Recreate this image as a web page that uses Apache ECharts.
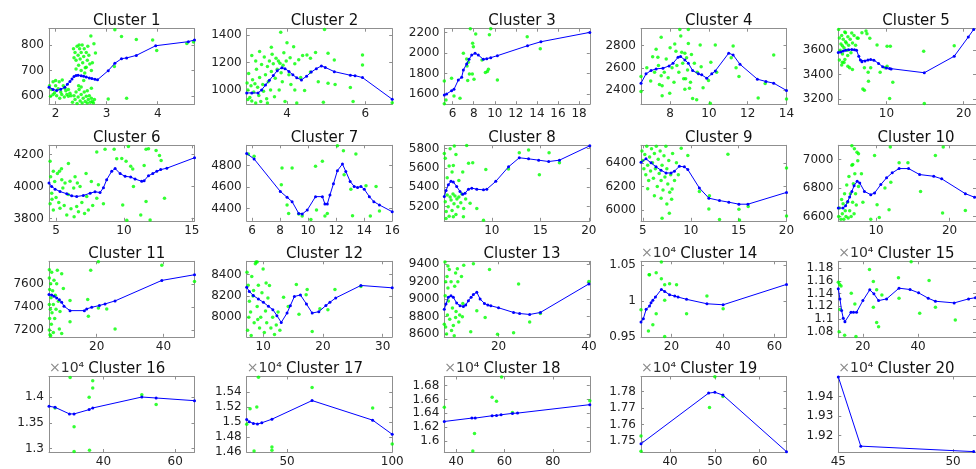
<!DOCTYPE html>
<html>
<head>
<meta charset="utf-8">
<script src="https://cdn.jsdelivr.net/npm/echarts@6/dist/echarts.min.js"></script>
<style>
  html, body { margin: 0; padding: 0; background: #fff; }
  #chart { width: 976px; height: 469px; }
</style>
</head>
<body>
<div id="chart"></div>
<script>
// blue line (cluster centre curve) and green points for every cluster, [x, y]
var line1 = [[1.87,634],[1.95,625],[2.02,621],[2.1,626],[2.18,634],[2.23,645],[2.28,656],[2.32,666],[2.36,676],[2.4,680],[2.44,681],[2.5,679],[2.55,677],[2.6,674],[2.66,670],[2.71,668],[2.77,665],[2.82,663],[3.03,699],[3.16,728],[3.29,746],[3.39,749],[3.58,759],[3.96,797],[4.6,813],[4.72,820]]
var pts1 = [[1.88,640],[1.92,625],[1.95,655],[1.98,612],[2.0,640],[2.02,600],[2.05,628],[2.07,655],[2.1,615],[2.12,605],[2.15,640],[2.17,595],[2.2,620],[2.22,605],[2.25,598],[2.28,610],[2.3,600],[1.9,598],[2.0,660],[2.08,590],[2.13,662],[1.95,605],[2.18,630],[2.25,625],
  [2.35,785],[2.38,770],[2.4,740],[2.42,795],[2.44,760],[2.45,720],[2.47,785],[2.48,745],[2.5,770],[2.52,800],[2.53,730],[2.55,755],[2.56,785],[2.58,710],[2.6,770],[2.62,740],[2.63,795],[2.65,760],[2.67,725],[2.4,705],[2.5,700],[2.57,690],[2.36,750],[2.46,800],[2.6,712],[2.72,730],[2.7,700],[2.75,805],[2.78,768],[2.69,835],[2.55,660],[2.45,640],
  [2.33,575],[2.36,600],[2.38,585],[2.4,615],[2.42,570],[2.44,595],[2.46,625],[2.48,580],[2.5,605],[2.52,572],[2.54,590],[2.56,615],[2.58,578],[2.6,598],[2.62,572],[2.64,585],[2.66,600],[2.68,575],[2.7,590],[2.72,578],[2.74,572],[2.76,585],[2.5,635],[2.62,620],[2.7,630],
  [3.03,587],[3.16,860],[3.15,715],[3.29,833],[3.39,590],[3.58,822],[3.9,820],[3.98,778],[4.57,806],[4.7,812]]

var line2 = [[2.97,978],[3.1,978],[3.26,978],[3.35,1000],[3.45,1035],[3.55,1070],[3.65,1105],[3.75,1140],[3.87,1162],[3.95,1155],[4.05,1135],[4.15,1110],[4.25,1088],[4.37,1073],[4.5,1100],[4.62,1130],[4.75,1155],[4.88,1175],[4.98,1164],[5.21,1133],[5.62,1107],[5.74,1104],[5.93,1090],[6.69,932]]
var pts2 = [[2.98,1050],[3.0,1000],[3.02,1120],[3.05,945],[3.08,1030],[3.1,920],[3.12,1075],[3.15,985],[3.18,1045],[3.2,905],[3.22,1150],[3.25,1020],[3.28,960],[3.3,1090],[3.33,915],[3.35,1185],[3.38,1040],[3.4,990],[3.42,1240],[3.45,1110],[3.48,935],[3.5,1170],[3.52,1060],[3.55,1210],[3.58,1000],[3.6,1135],[3.62,1260],[3.65,1190],[3.68,950],[3.7,1085],[3.72,1230],[3.75,1150],[3.78,1210],[3.8,1000],[3.82,1195],[3.85,1125],[3.88,1060],[3.9,1180],[3.92,1270],[3.95,915],[3.98,1210],[4.0,1344],[4.05,1110],[4.08,1235],[4.1,1040],[4.17,1315],[4.2,1190],[4.25,905],[4.3,1220],[4.35,1090],[4.4,1250],[4.45,995],[4.51,1255],[4.6,1130],[4.73,1272],[4.8,1060],[3.84,1420],[4.96,1440],[5.05,1267],[5.21,1218],[5.05,1049],[5.23,1039],[5.62,1017],[5.69,915],[5.93,1254],[5.93,1182],[4.93,911],[6.69,907],[3.1,1250],[3.3,1280],[3.6,1310],[4.2,1000],[4.6,1230],[3.0,930],[3.2,1210],[3.5,905]]

var line3 = [[5.21,1590],[5.43,1600],[5.9,1632],[6.13,1645],[6.54,1736],[6.86,1762],[7.02,1833],[7.33,1892],[7.56,1937],[7.81,1979],[8.13,1996],[8.44,1979],[8.92,1937],[9.24,1944],[9.62,1954],[10.25,1973],[13.11,2070],[14.38,2109],[19.02,2200]]
var pts3 = [[5.21,1726],[5.37,1542],[5.21,1505],[5.9,1752],[6.13,1580],[6.7,1558],[7.02,1996],[7.33,1940],[7.49,1908],[7.43,1730],[7.59,1795],[7.68,2235],[7.9,2093],[7.97,2060],[8.03,1743],[8.19,2184],[8.79,1931],[9.11,1808],[9.3,1818],[9.4,1840],[9.49,2177],[9.62,2235],[10.25,1736],[13.08,2158],[14.32,2041],[7.87,1795],[7.37,1873]]

var line4 = [[6.5,2461],[6.76,2545],[7.02,2575],[7.28,2590],[7.63,2596],[7.95,2617],[8.15,2641],[8.41,2695],[8.54,2701],[8.76,2671],[8.94,2641],[9.16,2575],[9.46,2545],[9.63,2536],[9.89,2506],[10.15,2545],[10.33,2572],[11.02,2732],[11.25,2716],[11.6,2632],[12.5,2497],[12.94,2476],[13.34,2461],[14.0,2395]]
var pts4 = [[7.54,2876],[7.28,2768],[7.37,2696],[7.54,2527],[7.59,2437],[7.59,2347],[7.98,2371],[8.24,2815],[8.3,2750],[8.5,2945],[8.55,2887],[8.94,2945],[8.94,2820],[8.76,2732],[8.8,2500],[8.76,2407],[9.0,2416],[9.16,2323],[9.37,2311],[9.55,2806],[9.98,2485],[10.07,2280],[10.33,2806],[11.25,2797],[11.55,2521],[13.34,2716],[12.54,2326],[12.9,2458],[14.0,2317],[6.5,2521],[6.5,2386],
  [6.8,2600],[7.0,2480],[7.1,2700],[7.2,2560],[7.4,2620],[7.45,2450],[7.7,2560],[7.8,2680],[7.9,2510],[8.0,2780],[8.1,2600],[8.2,2470],[8.35,2620],[8.45,2560],[8.6,2740],[8.65,2640],[8.7,2500],[8.85,2690],[8.9,2580],[9.05,2470],[9.1,2720],[9.25,2640],[9.4,2560],[9.6,2610],[9.7,2420],[10.1,2650],[10.4,2560],[11.15,2690],[11.4,2600]]

var line5 = [[3.76,3581],[4.08,3586],[4.4,3594],[4.69,3600],[5.1,3604],[5.51,3605],[5.85,3603],[6.12,3600],[6.41,3551],[6.62,3520],[6.82,3505],[7.22,3513],[7.6,3520],[7.96,3524],[8.37,3519],[8.98,3492],[9.51,3465],[10.0,3455],[10.41,3451],[10.6,3446],[14.9,3416],[18.78,3551],[20.6,3708],[21.3,3770]]
var pts5 = [[3.8,3770],[4.69,3743],[4.69,3670],[4.29,3637],[4.98,3556],[4.61,3524],[4.29,3502],[5.22,3456],[5.59,3443],[6.33,3697],[6.82,3743],[7.35,3757],[7.47,3735],[7.84,3697],[8.78,3643],[7.14,3456],[7.63,3421],[6.94,3283],[7.14,3273],[7.67,3346],[7.96,3456],[9.18,3421],[9.8,3456],[10.08,3632],[10.5,3632],[10.08,3470],[10.41,3205],[10.82,3338],[14.82,3592],[14.9,3165],[18.78,3637],
  [3.9,3700],[4.0,3600],[4.1,3650],[4.2,3720],[4.3,3570],[4.4,3690],[4.5,3620],[4.6,3750],[4.8,3660],[4.9,3600],[5.0,3710],[5.1,3640],[5.3,3690],[5.4,3580],[5.6,3660],[5.8,3720],[6.0,3640],[4.2,3480],[4.5,3500],[5.0,3470],[3.9,3520],[6.2,3700],[5.5,3740]]

var line6 = [[4.48,4021],[4.68,4000],[4.93,3983],[5.29,3968],[5.79,3954],[6.15,3941],[6.52,3937],[7.01,3943],[7.51,3958],[7.87,3966],[8.24,3962],[8.49,3992],[8.73,4042],[9.1,4095],[9.35,4112],[9.72,4080],[10.09,4063],[10.5,4059],[10.82,4046],[11.31,4032],[11.49,4036],[11.81,4067],[12.13,4080],[12.42,4095],[12.71,4105],[13.16,4114],[15.2,4179]]
var pts6 = [[5.91,4143],[7.21,4080],[8.0,4215],[8.61,4232],[9.28,4232],[9.47,4173],[9.84,4175],[10.16,4158],[10.33,4250],[10.5,4126],[10.65,4109],[10.7,4000],[11.49,4131],[11.63,4232],[11.81,4236],[12.37,4225],[12.62,4194],[12.74,4162],[12.99,3926],[11.63,3905],[11.93,3790],[11.24,3821],[10.21,3789],[9.91,3884],[8.49,3891],[8.0,3926],[8.12,4011],[7.26,3937],[7.38,3853],[6.52,3874],[6.65,3842],[6.33,3811],[5.79,3821],[5.29,3863],[4.8,3853],[4.56,3891],[4.56,4158],[4.8,4095],[5.25,4095],[5.42,4042],[5.66,4021],[6.03,4032],[6.57,4021],[6.77,4000],[4.68,3958],
  [4.6,4060],[4.9,4030],[5.0,3930],[5.1,4080],[5.2,3900],[5.5,3990],[5.6,3880],[5.9,3950],[6.1,3860],[6.3,3990],[6.9,3900],[7.1,3830],[7.7,3880],[4.7,3920],[5.4,4110],[6.4,4060],[7.6,4030]]

var line7 = [[5.62,4913],[6.15,4862],[8.02,4558],[8.5,4504],[8.86,4463],[9.33,4353],[9.58,4347],[9.94,4385],[10.53,4510],[11.02,4510],[11.2,4441],[11.37,4441],[11.56,4526],[11.81,4630],[12.09,4753],[12.45,4815],[12.69,4746],[13.0,4652],[13.29,4605],[13.53,4595],[13.77,4605],[14.01,4579],[14.37,4510],[14.69,4463],[15.09,4432],[16.0,4369]]
var pts7 = [[5.74,4909],[6.15,4888],[8.09,4621],[8.14,4777],[8.86,4777],[8.5,4432],[8.61,4353],[9.33,4347],[9.58,4330],[10.2,4295],[10.53,4793],[10.6,4385],[11.02,4840],[11.37,4353],[12.09,4985],[12.52,4940],[12.57,4715],[13.05,4579],[13.41,4909],[14.13,4612],[14.85,4605],[13.17,4331],[14.44,4328],[15.09,4375],[11.2,4330]]

var line8 = [[5.1,5305],[5.28,5367],[5.52,5427],[5.79,5462],[6.03,5455],[6.38,5409],[6.72,5357],[7.0,5329],[7.24,5340],[7.59,5381],[7.93,5392],[8.45,5381],[9.14,5374],[9.48,5381],[10.41,5462],[11.72,5612],[12.83,5706],[13.79,5695],[14.83,5681],[15.86,5667],[16.97,5681],[20.1,5830]]
var pts8 = [[5.1,5751],[6.13,5828],[7.41,5832],[6.03,5626],[7.76,5235],[8.03,5654],[9.38,5584],[8.45,5182],[7.07,5095],[6.03,5095],[5.28,5078],[11.72,5591],[12.83,5758],[13.79,5786],[14.9,5531],[15.9,5758],[16.97,5654],[9.14,5060],
  [5.2,5250],[5.3,5150],[5.4,5320],[5.5,5200],[5.6,5100],[5.7,5300],[5.8,5270],[5.9,5160],[6.0,5330],[6.1,5230],[6.2,5310],[6.3,5120],[6.4,5280],[6.5,5200],[6.6,5300],[6.8,5240],[6.9,5330],[7.1,5180],[7.3,5280],[5.4,5500],[5.6,5620],[5.9,5560],[6.3,5740],[6.6,5470],[5.2,5700],[7.0,5560],[5.7,5800],[7.6,5650]]

var line9 = [[4.8,6406],[5.32,6434],[5.85,6400],[6.37,6366],[6.89,6337],[7.42,6314],[7.94,6314],[8.29,6329],[8.81,6371],[9.33,6366],[9.69,6343],[10.9,6186],[11.89,6100],[13.0,6080],[13.98,6066],[15.03,6049],[15.97,6049],[20.0,6149]]
var pts9 = [[4.9,6500],[5.0,6420],[5.1,6350],[5.2,6470],[5.3,6300],[5.4,6540],[5.5,6380],[5.6,6250],[5.7,6450],[5.8,6330],[5.9,6520],[6.0,6400],[6.1,6270],[6.2,6480],[6.3,6350],[6.4,6540],[6.5,6200],[6.6,6430],[6.7,6310],[6.8,6500],[6.9,6250],[7.0,6380],[7.1,6170],[7.2,6460],[7.3,6280],[7.4,6540],[7.5,6350],[7.6,6220],[7.7,6420],[7.8,6150],[7.9,6300],[8.1,6480],[8.3,6250],[8.5,6400],[8.7,6300],[6.2,6120],[5.5,6180],[6.9,6100],[7.5,6050],[8.0,6090],[7.76,5972],[7.0,5930],[8.05,6177],[9.0,6523],[9.69,6463],[13.88,6472],[10.9,6157],[11.95,6120],[11.89,6009],[13.0,5920],[15.03,6006],[15.09,5915],[16.0,6030],[20.0,6357],[20.0,5949]]

var line10 = [[4.85,6659],[5.49,6659],[5.84,6675],[6.14,6706],[6.39,6736],[6.7,6776],[7.0,6816],[7.42,6847],[7.77,6835],[8.41,6776],[9.27,6753],[9.79,6765],[10.64,6824],[11.42,6871],[12.19,6906],[13.13,6936],[14.42,6936],[15.92,6894],[17.85,6882],[18.93,6864],[22.15,6760],[23.4,6735]]
var pts10 = [[4.9,6600],[5.0,6660],[5.2,6580],[5.3,6720],[5.4,6620],[5.5,6690],[5.6,6580],[5.7,6760],[5.8,6640],[5.9,6600],[6.0,6820],[6.1,6700],[6.2,6590],[6.3,6880],[6.4,6640],[6.5,6760],[6.6,6600],[6.7,6960],[6.8,6700],[6.9,6830],[7.0,6620],[7.1,6900],[7.2,6760],[7.3,6680],[7.5,6990],[7.6,6810],[6.7,7095],[7.04,7075],[7.4,7050],[7.6,7040],[6.82,6965],[8.0,6900],[8.2,6700],
  [9.79,7028],[11.93,7087],[13.13,6976],[14.33,6976],[10.13,6682],[9.27,6581],[10.43,6593],[11.76,6647],[16.05,6776],[18.07,7028],[19.14,7087],[19.05,6624],[22.15,6642],[12.0,6840],[11.2,6800]]

var line11 = [[5.7,7507],[6.5,7504],[7.2,7493],[8.0,7478],[8.8,7461],[9.5,7441],[10.2,7406],[12.0,7368],[16.3,7368],[17.0,7383],[18.5,7397],[20.8,7412],[22.5,7426],[25.5,7452],[39.5,7629],[49.3,7678]]
var pts11 = [[5.8,7200],[5.9,7300],[5.8,7420],[5.9,7550],[5.8,7650],[5.8,7720],[6.0,7160],[6.1,7380],[6.2,7600],[6.3,7480],[6.4,7250],[6.5,7700],[6.6,7350],[6.8,7540],[7.0,7420],[7.2,7630],[7.4,7300],[7.6,7500],[7.8,7380],[8.0,7600],[8.2,7716],[9.5,7687],[8.8,7209],[9.5,7170],[8.5,7450],[9.0,7360],[10.0,7560],[12.0,7455],[12.0,7272],[18.2,7716],[17.3,7464],[17.5,7319],[20.5,7790],[20.5,7390],[23.0,7383],[25.5,7209],[39.5,7759],[49.3,7620],[7.0,7180],[6.2,7150]]

var line12 = [[7.25,8281],[7.69,8241],[8.36,8203],[9.2,8171],[10.05,8140],[10.89,8103],[11.63,8072],[12.31,8016],[13.03,7953],[14.0,8040],[14.55,8109],[15.23,8194],[16.24,8209],[17.25,8124],[18.21,8040],[19.32,8053],[20.5,8110],[21.18,8140],[22.14,8181],[26.36,8297],[31.6,8275]]
var pts12 = [[7.3,8420],[7.5,8300],[7.7,8150],[7.9,8050],[8.1,8380],[8.3,8200],[8.5,7950],[8.7,8500],[8.82,8515],[9.0,8100],[9.2,8300],[9.4,7900],[9.6,8000],[9.8,8230],[10.0,8450],[10.2,7860],[10.4,8060],[10.6,7950],[10.8,8180],[11.06,8297],[11.3,7900],[11.6,8000],[11.9,7840],[12.2,7930],[12.5,8050],[12.8,7880],[13.42,8187],[14.2,8100],[15.56,8306],[17.37,8259],[17.2,8210],[16.0,8030],[18.21,7869],[19.5,8080],[20.84,8072],[22.02,8259],[26.36,8288],[7.4,7880],[8.0,7830],[9.0,8515],[7.6,8000],[8.4,8250],[9.1,7980],[10.5,8320]]

var line13 = [[8.0,8886],[8.37,8944],[8.89,9022],[9.48,9041],[10.0,9022],[10.74,8956],[11.48,8925],[12.22,8917],[12.74,8933],[13.33,8983],[13.93,9022],[14.44,9053],[15.19,9080],[15.93,9002],[16.89,8952],[17.63,8933],[18.3,8925],[20.0,8902],[23.33,8848],[24.67,8836],[26.89,8825],[29.26,8848],[40.0,9176]]
var pts13 = [[8.15,9427],[8.8,9380],[9.1,9340],[10.89,9350],[10.5,9300],[11.8,9260],[12.3,9390],[14.44,9408],[8.6,9260],[8.3,9200],[8.8,9130],[9.5,9200],[10.3,9150],[11.0,9200],[8.2,9040],[8.9,8980],[9.8,8900],[10.6,8860],[11.4,8820],[12.1,8950],[8.0,8713],[8.3,8680],[8.7,8820],[9.2,8770],[10.0,8700],[10.5,8790],[11.2,8740],[9.6,8640],[10.2,8580],[8.5,8600],[12.0,8800],[13.85,8628],[15.19,8867],[17.04,8790],[18.0,9342],[19.78,8597],[23.33,8616],[24.44,9176],[26.89,8740],[29.26,8836],[40,9203]]

var line14 = [[8.2,9707],[9.1,9753],[10.2,9884],[11.5,9930],[12.1,9976],[12.8,10010],[13.8,10056],[16.1,10163],[17.4,10135],[19.3,10088],[21.3,10070],[22.6,10056],[25.9,10024],[33.8,9962],[40.1,9948],[64.7,10233]]
var pts14 = [[8.2,9878],[11.1,9581],[11.35,10367],[11.5,10367],[14.1,10395],[16.1,10545],[16.1,10312],[17.4,10228],[17.4,10010],[19.3,10242],[22.0,10228],[14.1,9823],[12.8,9669],[17.4,9505],[25.9,9823],[33.8,10070],[40.1,9892]]

var line15 = [[11.1,11474],[11.7,11316],[12.3,11132],[12.9,11011],[13.5,10958],[15.7,11105],[16.6,11105],[17.7,11105],[20.0,11289],[22.5,11458],[24.0,11395],[25.7,11289],[28.6,11316],[33.1,11484],[37.1,11463],[40.2,11411],[43.7,11326],[46.3,11279],[53.1,11253],[58.3,11316],[60.8,11335]]
var pts15 = [[11.1,11579],[11.6,11540],[12.1,11520],[11.7,11150],[11.4,10800],[13.4,10747],[15.8,11405],[17.1,11237],[17.5,10725],[22.4,11779],[23.8,11589],[25.0,11458],[23.8,11184],[25.0,10947],[26.9,11379],[25.7,10879],[32.9,11647],[33.1,11326],[37.5,11900],[40.6,11089],[44.0,11605],[46.3,11184],[53.5,10984]]

var line16 = [[24.8,13821],[26.5,13801],[30.5,13673],[31.8,13673],[36.0,13756],[37.0,13788],[50.7,14000],[54.7,13981],[65.4,13929]]
var pts16 = [[30.7,14378],[26.5,13788],[31.8,13423],[31.8,12945],[36.0,13994],[37.0,14314],[37.0,14173],[36.1,12968],[50.7,14045],[54.7,13853]]

var line17 = [[30.8,15034],[32.0,15004],[34.0,14982],[35.9,14974],[38.0,14991],[42.8,15039],[61.9,15288],[90.7,15026],[100,14837]]
var pts17 = [[30.8,14970],[32.4,15179],[35.6,15201],[36.4,15600],[34.3,14615],[42.8,14667],[42.8,14625],[61.9,15463],[90.7,15188],[100,14706]]

var line18 = [[35.1,16281],[46.5,16330],[47.9,16330],[54.9,16364],[56.7,16368],[58.6,16378],[63.3,16398],[65.4,16402],[95.3,16524]]
var pts18 = [[35.1,16485],[47.6,16107],[46.9,15855],[54.9,16630],[56.7,16572],[58.8,16925],[63.3,16412],[65.4,15820],[95.3,16582]]

var line19 = [[33.5,17483],[48.6,17791],[50.0,17796],[51.8,17779],[66.0,17435]]
var pts19 = [[33.5,17531],[33.5,17437],[50.0,17890],[48.8,17704],[51.8,17770]]

var line20 = [[45,19500],[45.98,19145],[50.9,19117]]
var pts20 = []

// axis limits and tick values per cluster
var xRange = [[1.87,4.72],[2.97,6.69],[5.21,19.02],[6.5,14],[3.76,21.6],[4.48,15.2],[5.62,16],[5.1,20.1],[4.8,20],[4.85,23.6],
  [5.7,49.3],[7.25,31.6],[8,40.2],[8.2,64.7],[11.1,61],[24.8,65.4],[30.8,100],[35.1,95.3],[33.5,66],[45,51]]
var yRange = [[567,864],[896,1446],[1500,2236],[2271,2953],[3159,3776],[3785,4257],[4284,4990],[5054,5835],[5908,6549],[6570,7099],
  [7142,7794],[7819,8522],[8569,9435],[9500,10556],[10721,11906],[12936,14397],[14600,15610],[15840,16931],[17433,17892],[19115,19502]]
var xTicks = [[2,3,4],[4,6],[6,8,10,12,14,16,18],[8,10,12,14],[10,20],[5,10,15],[6,8,10,12,14,16],[10,15,20],[5,10,15,20],[10,20],
  [20,40],[10,20,30],[20,40],[20,40,60],[20,40],[40,60],[50,100],[40,60,80],[40,50,60],[45,50]]
var yTicks = [[600,700,800],[1000,1200,1400],[1600,1800,2000,2200],[2400,2600,2800],[3200,3400,3600],[3800,4000,4200],[4400,4600,4800],[5200,5400,5600,5800],[6000,6200,6400],[6600,6800,7000],
  [7200,7400,7600],[8000,8200,8400],[8600,8800,9000,9200,9400],[9500,10000,10500],[10800,11000,11200,11400,11600,11800],[13000,13500,14000],[14600,14800,15000,15200,15400],[16000,16200,16400,16600,16800],[17500,17600,17700,17800],[19200,19300,19400]]

var lines = [line1,line2,line3,line4,line5,line6,line7,line8,line9,line10,line11,line12,line13,line14,line15,line16,line17,line18,line19,line20]
var points = [pts1,pts2,pts3,pts4,pts5,pts6,pts7,pts8,pts9,pts10,pts11,pts12,pts13,pts14,pts15,pts16,pts17,pts18,pts19,pts20]

var colLeft = [49, 246.7, 444.3, 641, 838.3]
var rowTop = [28.7, 145.3, 261.3, 376.5]
var boxW = 145.5
var boxH = 75.5
var frame = '#8f8f8f'
var font = 'DejaVu Sans'

var chart = echarts.init(document.getElementById('chart'))

var grids = [], xAxes = [], yAxes = [], titles = [], series = []

function plain(v) { return String(v) }
function per1e4(v) { return String(+(v / 1e4).toFixed(4)) }

for (var i = 0; i < 20; i++) {
  var r = Math.floor(i / 5), c = i % 5
  var big = i >= 13 // clusters 14..20 are shown in units of 10^4
  grids.push({ left: colLeft[c], top: rowTop[r], width: boxW, height: boxH, containLabel: false })
  titles.push({
    text: 'Cluster ' + (i + 1),
    left: colLeft[c] + boxW / 2,
    top: rowTop[r] - 20,
    textAlign: 'center',
    textStyle: { fontFamily: font, fontSize: 15, fontWeight: 'normal', color: '#111' }
  })
  var xt = xTicks[i], yt = yTicks[i]
  // bottom + top x axes (top one only mirrors the ticks)
  ;[false, true].forEach(function (mirror) {
    xAxes.push({
      type: 'value', gridIndex: i, position: mirror ? 'top' : 'bottom',
      min: xRange[i][0], max: xRange[i][1],
      axisLine: { show: true, onZero: false, lineStyle: { color: frame, width: 1 } },
      axisTick: { show: true, inside: true, length: 3, customValues: xt, lineStyle: { color: frame } },
      axisLabel: { show: !mirror, customValues: xt, margin: 4, fontFamily: font, fontSize: 12, color: '#222', formatter: plain },
      splitLine: { show: false }
    })
  })
  ;[false, true].forEach(function (mirror) {
    var ax = {
      type: 'value', gridIndex: i, position: mirror ? 'right' : 'left',
      min: yRange[i][0], max: yRange[i][1],
      axisLine: { show: true, onZero: false, lineStyle: { color: frame, width: 1 } },
      axisTick: { show: true, inside: true, length: 3, customValues: yt, lineStyle: { color: frame } },
      axisLabel: {
        show: !mirror, customValues: yt, margin: 5, fontFamily: font, fontSize: 12, color: '#222',
        formatter: big ? per1e4 : plain
      },
      splitLine: { show: false }
    }
    if (big && !mirror) {
      ax.name = '{a|×}{b|10⁴}'
      ax.nameLocation = 'end'
      ax.nameGap = 1
      ax.nameTextStyle = {
        align: 'left', verticalAlign: 'bottom', padding: [0, 0, 0, 0],
        rich: {
          a: { fontFamily: font, fontSize: 14, color: '#8a8a8a' },
          b: { fontFamily: font, fontSize: 14, color: '#333' }
        }
      }
    }
    yAxes.push(ax)
  })
  series.push({
    type: 'scatter', xAxisIndex: 2 * i, yAxisIndex: 2 * i, data: points[i],
    symbol: 'circle', symbolSize: 3.5, itemStyle: { color: '#00ff00' }, silent: true, z: 2
  })
  series.push({
    type: 'line', xAxisIndex: 2 * i, yAxisIndex: 2 * i, data: lines[i],
    symbol: 'circle', symbolSize: 3, showSymbol: true,
    itemStyle: { color: '#0000ff' }, lineStyle: { color: '#0000ff', width: 1 },
    silent: true, z: 3
  })
}

chart.setOption({
  animation: false,
  backgroundColor: '#fff',
  title: titles,
  grid: grids,
  xAxis: xAxes,
  yAxis: yAxes,
  series: series
})
</script>
</body>
</html>
